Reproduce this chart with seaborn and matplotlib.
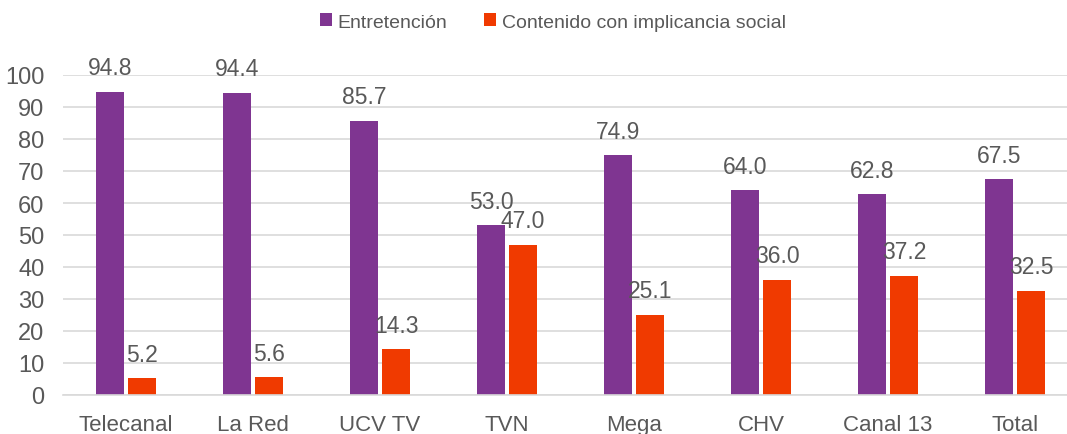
import matplotlib
matplotlib.use("Agg")
import matplotlib.pyplot as plt
import seaborn as sns
import pandas as pd

# ==========================================================
# Data
# ==========================================================

canales = ["Telecanal", "La Red", "UCV TV", "TVN", "Mega", "CHV", "Canal 13", "Total"]
entretencion = [94.8, 94.4, 85.7, 53.0, 74.9, 64.0, 62.8, 67.5]
implicancia = [5.2, 5.6, 14.3, 47.0, 25.1, 36.0, 37.2, 32.5]
series = ["Entretención", "Contenido con implicancia social"]
colores = ["#7F3591", "#F03A00"]
y_ticks = [0, 10, 20, 30, 40, 50, 60, 70, 80, 90, 100]

df = pd.DataFrame({
    "canal": canales * 2,
    "serie": [series[0]] * len(canales) + [series[1]] * len(canales),
    "valor": entretencion + implicancia,
})

sns.set_style("white")
plt.rcParams["font.family"] = ["Liberation Sans", "DejaVu Sans"]

texto = "#595959"
grid = "#D9D9D9"

fig = plt.figure(figsize=(10.67, 4.35), dpi=100)
ax = fig.add_axes([62.5 / 1067, 1 - 396 / 435, 1016 / 1067, 320 / 435])

sns.barplot(
    data=df,
    x="canal",
    y="valor",
    hue="serie",
    palette=colores,
    saturation=1,
    width=0.504,
    gap=0.125,
    linewidth=0,
    ax=ax,
)

for cont in ax.containers:
    ax.bar_label(cont, fmt="%.1f", padding=9, fontsize=16.5, color=texto)

ax.set_ylim(0, 100)
ax.set_yticks(y_ticks)
ax.set_xlabel("")
ax.set_ylabel("")

ax.yaxis.grid(True, color=grid, linewidth=1.2)
ax.set_axisbelow(True)

for s in ["top", "right", "left"]:
    ax.spines[s].set_visible(False)
ax.spines["bottom"].set_color(grid)
ax.spines["bottom"].set_linewidth(1.2)

ax.tick_params(axis="y", length=0, pad=13, labelsize=17, labelcolor=texto)
ax.tick_params(axis="x", length=0, pad=14, labelsize=16, labelcolor=texto)

handles, labels = ax.get_legend_handles_labels()
ax.get_legend().remove()
fig.legend(
    handles,
    labels,
    loc="center",
    bbox_to_anchor=(553 / 1067, 1 - 23 / 435),
    ncol=2,
    frameon=False,
    fontsize=14,
    labelcolor=texto,
    handlelength=0.6,
    handleheight=0.6,
    handletextpad=0.3,
    columnspacing=1.9,
)

fig.savefig("out.png", dpi=100)
plt.close(fig)
